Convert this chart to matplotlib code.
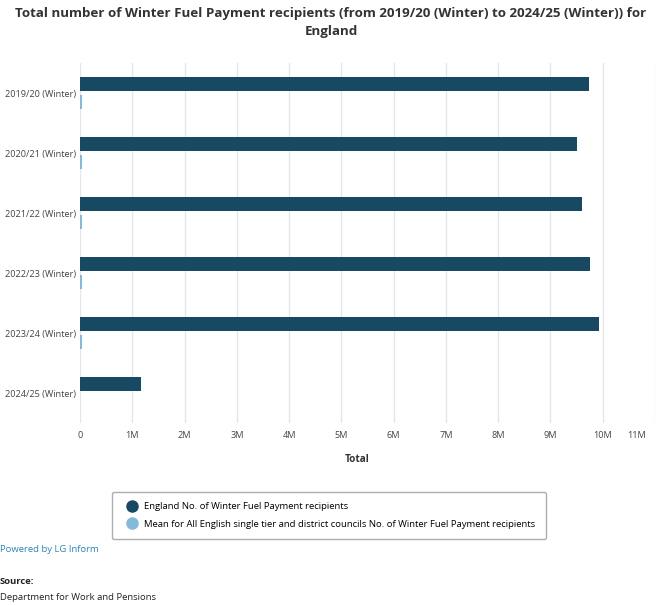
import matplotlib.pyplot as plt
from matplotlib.lines import Line2D
from matplotlib.transforms import ScaledTranslation

plt.rcParams['font.family'] = ['Open Sans', 'DejaVu Sans']

# data
winters = ["2019/20 (Winter)", "2020/21 (Winter)", "2021/22 (Winter)",
           "2022/23 (Winter)", "2023/24 (Winter)", "2024/25 (Winter)"]
england = [9730000, 9510000, 9610000, 9750000, 9930000, 1170000]
council_mean = [32900, 32100, 32500, 32900, 33500, 3900]
tick_vals = [0, 1e6, 2e6, 3e6, 4e6, 5e6, 6e6, 7e6, 8e6, 9e6, 10e6, 11e6]
tick_text = ["0", "1M", "2M", "3M", "4M", "5M", "6M", "7M", "8M", "9M", "10M", "11M"]

W, H = 659, 605
dark = "#174a62"
light = "#85b9da"

fig = plt.figure(figsize=(W / 100, H / 100), dpi=100)


def fx(px):
    return px / W


def fy(py):
    return 1 - py / H


ax = fig.add_axes([fx(80), fy(423), fx(655) - fx(80), fy(63) - fy(423)])

pos = list(range(len(winters)))
bar_h = 0.24
ax.barh([p - 0.15 for p in pos], england, height=bar_h, color=dark)
ax.barh([p + 0.15 for p in pos], council_mean, height=bar_h, color=light)

ax.set_xlim(0, 11e6)
ax.set_ylim(5.5, -0.5)
ax.set_xticks(tick_vals)
ax.set_xticklabels(tick_text)
ax.set_yticks(pos)
ax.set_yticklabels(winters)
ax.tick_params(axis='both', length=0, labelsize=6.6, colors="#444444")
ax.tick_params(axis='x', pad=6)
ax.tick_params(axis='y', pad=3)
# last label is pushed left to stay inside the chart, like the original
last = ax.get_xticklabels()[-1]
last.set_transform(last.get_transform() + ScaledTranslation(-0.18, 0, fig.dpi_scale_trans))
ax.grid(axis='x', color="#e6e6e6", linewidth=1)
ax.set_axisbelow(True)
for s in ax.spines.values():
    s.set_visible(False)

fig.text(fx(357), fy(460), "Total", ha='center', va='center',
         fontsize=7.2, fontweight='bold', color="#333333")

fig.text(fx(331), fy(13), "Total number of Winter Fuel Payment recipients (from 2019/20 (Winter) to 2024/25 (Winter)) for",
         ha='center', va='center', fontsize=9.6, fontweight='bold', color="#333333")
fig.text(fx(331), fy(31), "England", ha='center', va='center',
         fontsize=9.6, fontweight='bold', color="#333333")

handles = [
    Line2D([], [], marker='o', linestyle='none', markersize=8, color=dark,
           label="England No. of Winter Fuel Payment recipients"),
    Line2D([], [], marker='o', linestyle='none', markersize=8, color=light,
           label="Mean for All English single tier and district councils No. of Winter Fuel Payment recipients"),
]
leg = fig.legend(handles=handles, loc='center',
                 bbox_to_anchor=(fx(329), fy(515.5)), fontsize=6.8,
                 frameon=True, fancybox=True, edgecolor="#999999",
                 handletextpad=0.2, labelspacing=0.85, borderpad=1.15)
leg.get_frame().set_linewidth(1)

fig.text(0, fy(550), "Powered by LG Inform", ha='left', va='center',
         fontsize=6.8, color="#2a86b5")
fig.text(0, fy(582), "Source:", ha='left', va='center',
         fontsize=6.8, fontweight='bold', color="#222222")
fig.text(0, fy(598), "Department for Work and Pensions", ha='left', va='center',
         fontsize=6.8, color="#222222")

fig.savefig("out.png", dpi=100, facecolor='white')
